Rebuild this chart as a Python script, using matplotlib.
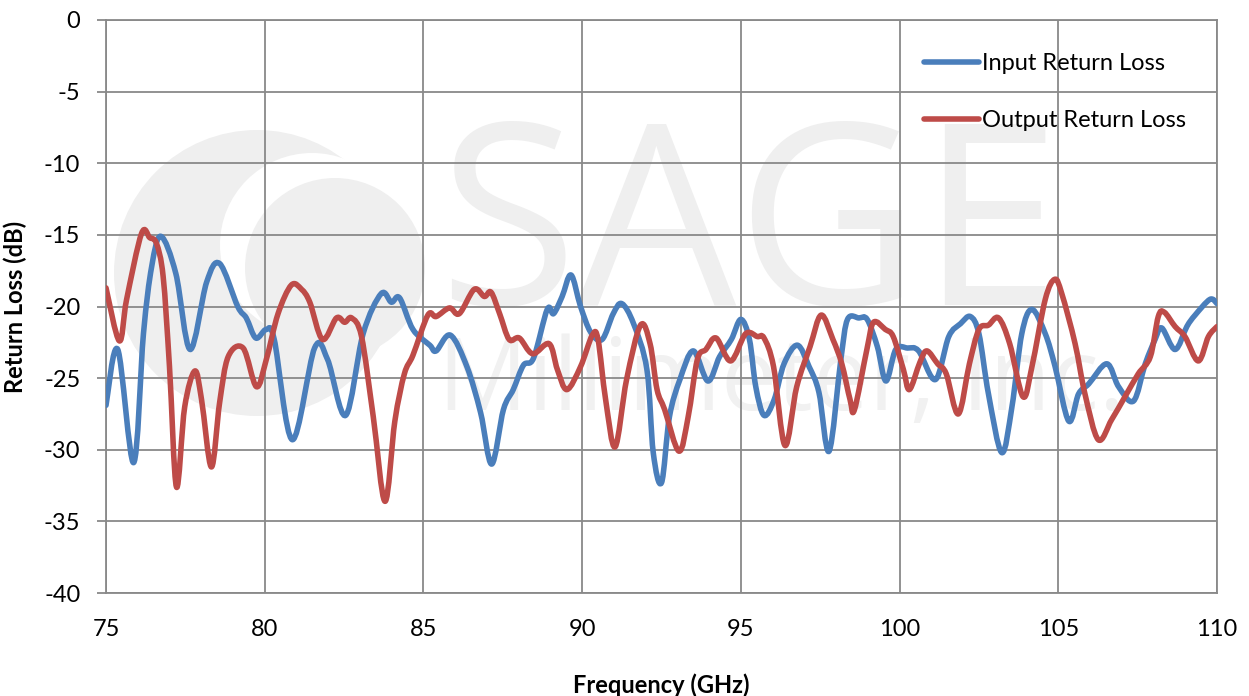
import numpy as np
import matplotlib.pyplot as plt
from matplotlib.patches import Ellipse, PathPatch
from matplotlib.path import Path
from matplotlib.lines import Line2D

plt.rcParams['font.family'] = ['Lato', 'DejaVu Sans']
plt.rcParams['axes.unicode_minus'] = False

# Input return loss (blue)
in_freq = [75.0, 75.37, 75.87, 76.18, 76.44, 76.73, 77.2, 77.65, 78.17, 78.58, 79.15, 79.42,
           79.72, 80.05, 80.3, 80.87, 81.57, 81.98, 82.55, 83.1, 83.67, 83.99,
           84.25, 84.67, 85.2, 85.4, 85.85, 86.37, 86.8, 87.15, 87.52, 87.83,
           88.15, 88.47, 88.9, 89.1, 89.37, 89.65, 89.95, 90.27, 90.63, 90.98,
           91.25, 91.62, 92.04, 92.24, 92.5, 92.75, 93.08, 93.5, 93.96, 94.33,
           94.7, 95.0, 95.27, 95.47, 95.73, 96.05, 96.36, 96.78, 97.15, 97.46,
           97.78, 98.15, 98.36, 98.72, 98.98, 99.3, 99.57, 99.88, 100.25, 100.6,
           101.13, 101.55, 101.92, 102.23, 102.5, 102.8, 103.22, 103.54, 103.85, 104.17,
           104.59, 104.9, 105.33, 105.64, 105.96, 106.53, 106.9, 107.37, 107.74, 108.05,
           108.26, 108.68, 109.05, 109.31, 109.78, 110.0]
in_rl = [-26.9, -23.0, -30.9, -21.9, -17.2, -15.1, -17.7, -23.0, -18.3, -17.0, -20.0, -20.8,
         -22.2, -21.6, -22.3, -29.3, -22.9, -23.7, -27.6, -21.9, -19.1, -19.7,
         -19.4, -21.6, -22.7, -23.1, -22.0, -24.2, -27.4, -31.0, -27.2, -25.8,
         -24.1, -23.6, -20.2, -20.5, -19.3, -17.8, -20.0, -21.8, -22.3, -20.5,
         -19.8, -21.2, -24.4, -30.2, -32.3, -27.7, -25.1, -23.1, -25.2, -23.5,
         -22.3, -20.9, -22.3, -25.6, -27.6, -26.5, -24.0, -22.7, -24.2, -26.0,
         -30.1, -23.7, -20.9, -20.8, -20.9, -22.8, -25.2, -23.0, -22.9, -23.1,
         -25.1, -22.1, -21.2, -20.7, -21.9, -26.1, -30.2, -27.0, -21.9, -20.2,
         -21.9, -24.2, -28.0, -26.1, -25.4, -24.0, -25.6, -26.6, -24.0, -22.3,
         -21.5, -23.0, -21.4, -20.6, -19.5, -19.8]

# Output return loss (red)
out_freq = [75.0, 75.42, 75.65, 76.12, 76.38, 76.59, 76.8, 77.0, 77.22, 77.48,
            77.8, 78.01, 78.32, 78.58, 78.85, 79.32, 79.74, 80.05, 80.42, 80.84,
            81.16, 81.42, 81.82, 82.26, 82.52, 82.74, 83.05, 83.42, 83.79, 84.1,
            84.4, 84.67, 85.14, 85.4, 85.82, 86.13, 86.6, 86.92, 87.13, 87.4,
            87.7, 88.02, 88.44, 88.96, 89.22, 89.52, 89.95, 90.32, 90.5, 90.74,
            91.04, 91.4, 91.84, 92.14, 92.36, 92.6, 93.05, 93.34, 93.63, 93.9,
            94.22, 94.68, 95.15, 95.52, 95.73, 96.03, 96.39, 96.76, 97.18, 97.53,
            97.9, 98.18, 98.44, 98.58, 98.97, 99.18, 99.55, 99.8, 100.12, 100.31,
            100.64, 100.86, 101.2, 101.47, 101.85, 102.2, 102.5, 102.8, 103.12, 103.47,
            103.89, 104.17, 104.59, 104.89, 105.11, 105.53, 105.84, 106.26, 106.68, 107.1,
            107.52, 107.9, 108.15, 108.34, 108.68, 108.99, 109.41, 109.73, 110.0]
out_rl = [-18.7, -22.4, -19.5, -14.9, -15.2, -15.6, -17.9, -24.2, -32.6, -27.0,
          -24.5, -26.5, -31.2, -26.7, -23.5, -22.9, -25.6, -23.7, -20.5, -18.5,
          -18.8, -19.7, -22.3, -20.8, -21.1, -20.8, -22.1, -27.7, -33.6, -28.0,
          -24.7, -23.4, -20.6, -20.7, -20.1, -20.5, -18.8, -19.3, -19.0, -20.5,
          -22.3, -22.2, -23.3, -22.6, -24.4, -25.8, -24.2, -22.0, -22.3, -26.5,
          -29.8, -25.1, -21.3, -22.6, -25.8, -27.2, -30.1, -27.7, -23.7, -23.0,
          -22.2, -23.8, -21.9, -22.1, -22.2, -24.2, -29.7, -25.6, -22.8, -20.6,
          -22.3, -24.0, -26.5, -27.2, -23.0, -21.1, -21.6, -22.1, -24.4, -25.8,
          -23.9, -23.1, -24.0, -24.7, -27.5, -24.0, -21.6, -21.3, -20.8, -22.6,
          -26.3, -24.2, -19.5, -18.1, -19.1, -22.6, -26.1, -29.3, -27.9, -26.3,
          -24.7, -23.5, -20.7, -20.4, -21.4, -22.1, -23.8, -22.1, -21.4]

series_names = ['Input Return Loss', 'Output Return Loss']
series_colors = ['#4a7ebb', '#be4b48']

x_ticks = np.arange(75, 111, 5)
y_ticks = np.arange(-40, 1, 5)

W, H = 1249, 696
L, R, T, B = 106, 1217, 20, 593

fig = plt.figure(figsize=(W / 100, H / 100), dpi=100)
ax = fig.add_axes([L / W, 1 - B / H, (R - L) / W, (B - T) / H])

def px_to_ax(px, py):
    return (px - L) / (R - L), 1 - (py - T) / (B - T)

def disk(px, py, r, color):
    cx, cy = px_to_ax(px, py)
    ax.add_patch(Ellipse((cx, cy), 2 * r / (R - L), 2 * r / (B - T),
                         transform=ax.transAxes, color=color, lw=0, zorder=0.1))

def smooth_path(xs, ys):
    # Catmull-Rom through the read points, as Excel's smoothed line does
    p = np.column_stack([xs, ys])
    p = np.vstack([p[0], p, p[-1]])
    verts = [p[1]]
    codes = [Path.MOVETO]
    for i in range(1, len(p) - 2):
        c1 = p[i] + (p[i + 1] - p[i - 1]) / 6
        c2 = p[i + 1] - (p[i + 2] - p[i]) / 6
        verts += [c1, c2, p[i + 1]]
        codes += [Path.CURVE4] * 3
    return Path(verts, codes)

# faint company watermark
wm = '#efefef'
disk(257, 273, 143, wm)
disk(312, 245, 92, 'white')
disk(335, 268, 90, wm)
tx, ty = px_to_ax(438, 305)
ax.text(tx, ty, 'SAGE', transform=ax.transAxes, fontsize=182, color=wm,
        family='Open Sans', ha='left', va='baseline', zorder=0.1)
tx, ty = px_to_ax(438, 410)
ax.text(tx, ty, 'Millimeter, Inc.', transform=ax.transAxes, fontsize=72, color='#f1f1f1',
        family='Open Sans', ha='left', va='baseline', zorder=0.1)

handles = []
for xs, ys, name, col in zip([in_freq, out_freq], [in_rl, out_rl], series_names, series_colors):
    ax.add_patch(PathPatch(smooth_path(xs, ys), fill=False, edgecolor=col, lw=4.0,
                           joinstyle='round', capstyle='round', zorder=3))
    handles.append(Line2D([], [], color=col, lw=4.0, solid_capstyle='round', label=name))

ax.set_xlim(75, 110)
ax.set_ylim(-40, 0)
ax.set_xticks(x_ticks)
ax.set_yticks(y_ticks)
ax.set_axisbelow(True)
ax.grid(True, color='#898989', lw=1.3)
for s in ax.spines.values():
    s.set_color('#898989')
    s.set_linewidth(1.3)
ax.tick_params(axis='y', length=6.5, width=1.3, color='#898989', pad=12, labelsize=17)
ax.tick_params(axis='x', length=0, pad=19, labelsize=17)

ax.set_xlabel('Frequency (GHz)', fontsize=17, fontweight='bold', labelpad=24)
ax.set_ylabel('Return Loss (dB)', fontsize=17, fontweight='bold', labelpad=12)

ax.legend(handles=handles, loc='upper right', bbox_to_anchor=(1.0, 0.996), frameon=False,
          fontsize=17, handlelength=2.3, handletextpad=0.15, labelspacing=1.53,
          borderaxespad=0.9)

fig.savefig('out.png', dpi=100)
